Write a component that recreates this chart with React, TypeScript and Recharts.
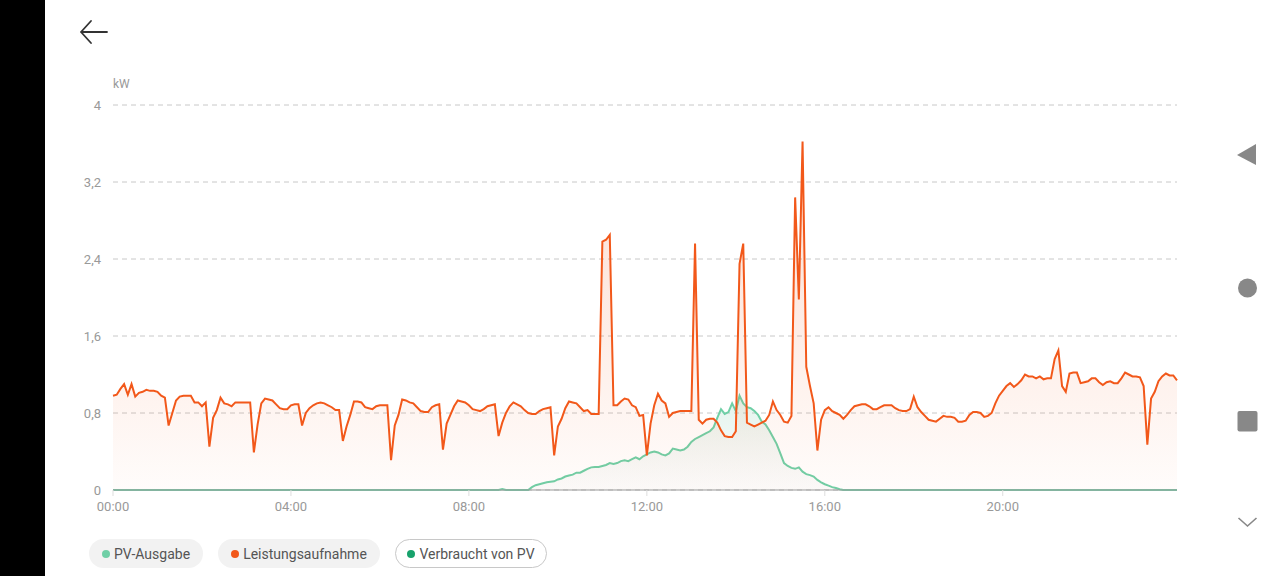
import { ComposedChart, Area, XAxis, YAxis, CartesianGrid } from 'recharts'

// 5-minute samples, 00:00 .. 23:55 (kW), one row per hour
const loadKw = [
  0.98, 0.99, 1.05, 1.10, 0.99, 1.10, 0.97, 1.01, 1.02, 1.04, 1.03, 1.03,
  1.02, 0.98, 0.96, 0.67, 0.80, 0.93, 0.97, 0.98, 0.98, 0.98, 0.91, 0.91,
  0.87, 0.91, 0.45, 0.75, 0.83, 0.96, 0.90, 0.89, 0.87, 0.91, 0.91, 0.91,
  0.91, 0.91, 0.39, 0.68, 0.90, 0.95, 0.94, 0.93, 0.89, 0.85, 0.84, 0.84,
  0.88, 0.89, 0.89, 0.67, 0.80, 0.85, 0.88, 0.90, 0.91, 0.90, 0.88, 0.86,
  0.83, 0.83, 0.51, 0.66, 0.78, 0.92, 0.92, 0.91, 0.86, 0.85, 0.84, 0.87,
  0.88, 0.88, 0.88, 0.31, 0.67, 0.78, 0.94, 0.93, 0.91, 0.90, 0.86, 0.82,
  0.81, 0.81, 0.86, 0.88, 0.89, 0.42, 0.69, 0.78, 0.87, 0.93, 0.92, 0.91,
  0.88, 0.84, 0.83, 0.82, 0.84, 0.87, 0.88, 0.89, 0.56, 0.70, 0.80, 0.87,
  0.91, 0.89, 0.87, 0.83, 0.80, 0.79, 0.79, 0.82, 0.84, 0.85, 0.86, 0.36,
  0.66, 0.74, 0.85, 0.92, 0.91, 0.90, 0.86, 0.82, 0.83, 0.79, 0.79, 0.79,
  2.58, 2.60, 2.65, 0.88, 0.88, 0.92, 0.95, 0.94, 0.88, 0.86, 0.77, 0.78,
  0.36, 0.69, 0.88, 1.00, 0.93, 0.90, 0.76, 0.80, 0.81, 0.82, 0.82, 0.82,
  0.82, 2.56, 0.73, 0.69, 0.73, 0.74, 0.74, 0.70, 0.62, 0.56, 0.55, 0.55,
  0.61, 2.35, 2.56, 0.70, 0.68, 0.66, 0.68, 0.70, 0.72, 0.78, 0.92, 0.83,
  0.78, 0.71, 0.70, 0.77, 3.04, 1.98, 3.62, 1.28, 1.08, 0.90, 0.41, 0.73,
  0.83, 0.86, 0.82, 0.80, 0.78, 0.74, 0.78, 0.83, 0.87, 0.88, 0.89, 0.89,
  0.87, 0.84, 0.84, 0.86, 0.88, 0.88, 0.88, 0.85, 0.83, 0.82, 0.82, 0.84,
  0.97, 0.86, 0.81, 0.77, 0.73, 0.72, 0.71, 0.74, 0.77, 0.76, 0.76, 0.75,
  0.71, 0.71, 0.72, 0.78, 0.81, 0.81, 0.80, 0.76, 0.77, 0.80, 0.90, 0.98,
  1.03, 1.08, 1.11, 1.07, 1.10, 1.14, 1.20, 1.18, 1.18, 1.16, 1.18, 1.15,
  1.16, 1.16, 1.36, 1.45, 1.08, 1.02, 1.21, 1.22, 1.22, 1.11, 1.12, 1.13,
  1.16, 1.16, 1.12, 1.09, 1.12, 1.13, 1.11, 1.11, 1.16, 1.22, 1.20, 1.18,
  1.18, 1.17, 1.08, 0.47, 0.95, 1.02, 1.13, 1.18, 1.21, 1.19, 1.19, 1.14,
]

const pvKw = [
  0, 0, 0, 0, 0, 0, 0, 0, 0, 0, 0, 0,
  0, 0, 0, 0, 0, 0, 0, 0, 0, 0, 0, 0,
  0, 0, 0, 0, 0, 0, 0, 0, 0, 0, 0, 0,
  0, 0, 0, 0, 0, 0, 0, 0, 0, 0, 0, 0,
  0, 0, 0, 0, 0, 0, 0, 0, 0, 0, 0, 0,
  0, 0, 0, 0, 0, 0, 0, 0, 0, 0, 0, 0,
  0, 0, 0, 0, 0, 0, 0, 0, 0, 0, 0, 0,
  0, 0, 0, 0, 0, 0, 0, 0, 0, 0, 0, 0,
  0, 0, 0, 0, 0, 0, 0, 0, 0, 0.01, 0, 0,
  0, 0, 0, 0, 0, 0.03, 0.05, 0.06, 0.07, 0.08, 0.085, 0.09,
  0.11, 0.12, 0.14, 0.15, 0.16, 0.18, 0.18, 0.2, 0.22, 0.235, 0.24, 0.24,
  0.25, 0.26, 0.28, 0.27, 0.28, 0.3, 0.31, 0.3, 0.32, 0.34, 0.32, 0.35,
  0.37, 0.39, 0.4, 0.39, 0.37, 0.36, 0.38, 0.43, 0.42, 0.41, 0.42, 0.45,
  0.5, 0.53, 0.55, 0.57, 0.59, 0.61, 0.65, 0.75, 0.84, 0.79, 0.81, 0.9,
  0.82, 0.98, 0.9, 0.86, 0.85, 0.82, 0.78, 0.71, 0.68, 0.62, 0.55, 0.48,
  0.38, 0.28, 0.25, 0.23, 0.22, 0.235, 0.19, 0.165, 0.155, 0.14, 0.105, 0.08,
  0.06, 0.045, 0.03, 0.02, 0.008, 0, 0, 0, 0, 0, 0, 0,
  0, 0, 0, 0, 0, 0, 0, 0, 0, 0, 0, 0,
  0, 0, 0, 0, 0, 0, 0, 0, 0, 0, 0, 0,
  0, 0, 0, 0, 0, 0, 0, 0, 0, 0, 0, 0,
  0, 0, 0, 0, 0, 0, 0, 0, 0, 0, 0, 0,
  0, 0, 0, 0, 0, 0, 0, 0, 0, 0, 0, 0,
  0, 0, 0, 0, 0, 0, 0, 0, 0, 0, 0, 0,
  0, 0, 0, 0, 0, 0, 0, 0, 0, 0, 0, 0,
]

const xTicks = [0, 240, 480, 720, 960, 1200] // minutes
const xTickLabels = ['00:00', '04:00', '08:00', '12:00', '16:00', '20:00']
const yTicks = [0, 0.8, 1.6, 2.4, 3.2, 4]

const legendItems = [
  { name: 'PV-Ausgabe', color: '#6fcfa6', width: 114, outlined: false },
  { name: 'Leistungsaufnahme', color: '#f2581a', width: 162, outlined: false },
  { name: 'Verbraucht von PV', color: '#17a26c', width: 152, outlined: true },
]

const data = loadKw.map((v, i) => ({ t: i * 5, load: v, pv: pvKw[i] }))

const ORANGE = '#f2581a'
const GREEN = '#6fcfa6'
const FONT = 'Roboto, "Noto Sans", sans-serif'

export default function App() {
  return (
    <div style={{ position: 'absolute', left: 0, top: 0, width: 1280, height: 576, background: '#fff', overflow: 'hidden', fontFamily: FONT }}>
      <div style={{ position: 'absolute', left: 0, top: 0, width: 45, height: 576, background: '#000' }} />

      {/* back arrow */}
      <svg style={{ position: 'absolute', left: 76, top: 18 }} width={36} height={30}>
        <path d="M5 14 H31 M5 14 L15 3 M5 14 L15 25" stroke="#333" strokeWidth={1.8} fill="none" strokeLinecap="round" />
      </svg>

      <div style={{ position: 'absolute', left: 113, top: 77, fontSize: 12, color: '#999' }}>kW</div>

      <div style={{ position: 'absolute', left: 0, top: 60 }}>
        <ComposedChart width={1240} height={470} data={data} margin={{ top: 45, right: 63, bottom: 10, left: 63 }}>
          <defs>
            <linearGradient id="gradLoad" x1="0" y1="0" x2="0" y2="1">
              <stop offset="0%" stopColor={ORANGE} stopOpacity={0.35} />
              <stop offset="100%" stopColor={ORANGE} stopOpacity={0.03} />
            </linearGradient>
            <linearGradient id="gradPv" x1="0" y1="0" x2="0" y2="1">
              <stop offset="0%" stopColor={GREEN} stopOpacity={0.35} />
              <stop offset="100%" stopColor="#bbbbbb" stopOpacity={0.08} />
            </linearGradient>
          </defs>
          <CartesianGrid vertical={false} stroke="#c8c8c8" strokeDasharray="5 4" />
          <XAxis
            type="number"
            dataKey="t"
            domain={[0, 1435]}
            ticks={xTicks}
            tickFormatter={(v) => xTickLabels[xTicks.indexOf(v)]}
            axisLine={{ stroke: '#999' }}
            tickLine={{ stroke: '#ddd' }}
            tickSize={6}
            tickMargin={6}
            tick={{ fontSize: 13, fill: '#999', fontFamily: FONT }}
          />
          <YAxis
            domain={[0, 4]}
            ticks={yTicks}
            width={50}
            axisLine={false}
            tickLine={false}
            tickSize={0}
            tickMargin={12}
            tickFormatter={(v) => String(v).replace('.', ',')}
            tick={{ fontSize: 13, fill: '#999', fontFamily: FONT }}
          />
          <Area
            type="linear"
            dataKey="pv"
            stroke={GREEN}
            strokeWidth={2}
            fill="url(#gradPv)"
            dot={false}
            activeDot={false}
            isAnimationActive={false}
          />
          <Area
            type="linear"
            dataKey="load"
            stroke={ORANGE}
            strokeWidth={2}
            fill="url(#gradLoad)"
            dot={false}
            activeDot={false}
            isAnimationActive={false}
          />
        </ComposedChart>
      </div>

      {/* legend */}
      <div style={{ position: 'absolute', left: 89, top: 539, display: 'flex', gap: 15 }}>
        {legendItems.map((it) => (
          <div
            key={it.name}
            style={{
              width: it.width,
              height: 29,
              boxSizing: 'border-box',
              borderRadius: 15,
              background: it.outlined ? '#fff' : '#f2f2f2',
              border: it.outlined ? '1px solid #c8c8c8' : 'none',
              display: 'flex',
              alignItems: 'center',
              justifyContent: 'center',
              fontSize: 14,
              color: '#555',
              whiteSpace: 'nowrap',
            }}
          >
            <span style={{ width: 8, height: 8, borderRadius: 4, background: it.color, marginRight: 4, flexShrink: 0 }} />
            {it.name}
          </div>
        ))}
      </div>

      {/* system nav buttons */}
      <svg style={{ position: 'absolute', left: 1230, top: 135 }} width={40} height={400}>
        <polygon points="7,20 26,9 26,30" fill="#888" />
        <circle cx={17.5} cy={153} r={9.5} fill="#888" />
        <rect x={7.5} y={276} width={20} height={20.5} rx={2} fill="#888" />
        <path d="M8.5 383 L17.5 391 L26.5 383" stroke="#888" strokeWidth={1.6} fill="none" />
      </svg>
    </div>
  )
}
